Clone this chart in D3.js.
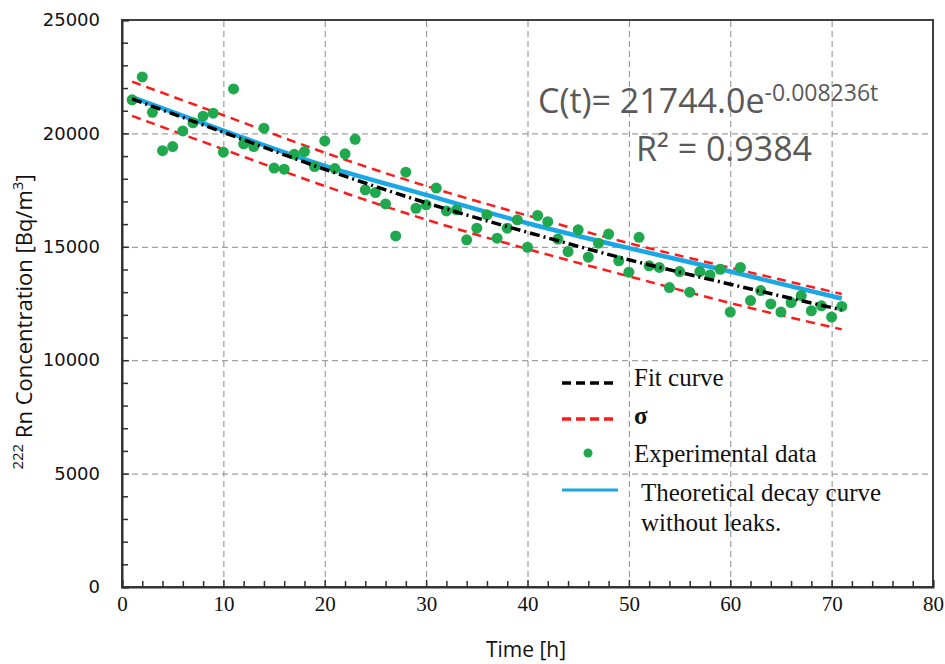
<!DOCTYPE html>
<html>
<head>
<meta charset="utf-8">
<script src="https://cdn.jsdelivr.net/npm/d3@7"></script>
<style>
  body { margin: 0; background: #fff; }
  svg { display: block; }
</style>
</head>
<body>
<svg></svg>
<script>
// experimental points
const hours = [1, 2, 3, 4, 5, 6, 7, 8, 9, 10, 11, 12, 13, 14, 15, 16, 17, 18, 19, 20,
  21, 22, 23, 24, 25, 26, 27, 28, 29, 30, 31, 32, 33, 34, 35, 36, 37, 38, 39, 40,
  41, 42, 43, 44, 45, 46, 47, 48, 49, 50, 51, 52, 53, 54, 55, 56, 57, 58, 59, 60,
  61, 62, 63, 64, 65, 66, 67, 68, 69, 70, 71];
const concentration = [21480, 22490, 20930, 19240, 19420, 20110, 20470, 20760, 20890, 19170,
  21960, 19540, 19420, 20230, 18470, 18420, 19080, 19200, 18540, 19670,
  18450, 19100, 19740, 17510, 17390, 16890, 15480, 18290, 16700, 16850,
  17590, 16580, 16630, 15310, 15820, 16410, 15380, 15820, 16190, 14980,
  16380, 16110, 15340, 14790, 15750, 14540, 15160, 15560, 14380, 13880,
  15420, 14160, 14090, 13200, 13910, 13000, 13910, 13760, 14010, 12120,
  14090, 12630, 13070, 12480, 12120, 12540, 12850, 12180, 12400, 11900, 12370];

// curves
const curveHours = [1, 10, 20, 30, 40, 50, 60, 71];
const fitCurve = [21520, 20050, 18420, 16940, 15640, 14430, 13350, 12220];
const sigmaUpper = [22280, 20800, 19150, 17680, 16380, 15160, 14080, 12920];
const sigmaLower = [20770, 19300, 17680, 16200, 14900, 13700, 12520, 11360];
const theoretical = [21600, 20120, 18570, 17290, 16040, 14940, 13910, 12720];

const xTicks = [0, 10, 20, 30, 40, 50, 60, 70, 80];
const yTicks = [0, 5000, 10000, 15000, 20000, 25000];
const xMinor = [2, 4, 6, 8, 12, 14, 16, 18, 22, 24, 26, 28, 32, 34, 36, 38, 42, 44, 46, 48,
  52, 54, 56, 58, 62, 64, 66, 68, 72, 74, 76, 78];
const yMinor = [1000, 2000, 3000, 4000, 6000, 7000, 8000, 9000, 11000, 12000, 13000, 14000,
  16000, 17000, 18000, 19000, 21000, 22000, 23000, 24000];

const width = 945;
const height = 664;
const margin = { top: 20, right: 12, bottom: 77, left: 122 };
const plotW = width - margin.left - margin.right;
const plotH = height - margin.top - margin.bottom;

const svg = d3.select("svg").attr("width", width).attr("height", height);
const g = svg.append("g").attr("transform", "translate(" + margin.left + "," + margin.top + ")");

const xScale = d3.scaleLinear().domain([0, 80]).range([0, plotW]);
const yScale = d3.scaleLinear().domain([0, 25000]).range([plotH, 0]);

// gridlines
const gridX = g.append("g")
  .attr("transform", "translate(0," + plotH + ")")
  .call(d3.axisBottom(xScale).tickValues(xTicks.slice(1, -1)).tickSize(-plotH).tickFormat(""));
const gridY = g.append("g")
  .call(d3.axisLeft(yScale).tickValues(yTicks.slice(1, -1)).tickSize(-plotW).tickFormat(""));
[gridX, gridY].forEach((gr) => {
  gr.select(".domain").remove();
  gr.selectAll("line").attr("stroke", "#8a8a8a").attr("stroke-width", 1).attr("stroke-dasharray", "6,4");
});

// frame
g.append("rect")
  .attr("width", plotW).attr("height", plotH)
  .attr("fill", "none").attr("stroke", "#404040").attr("stroke-width", 2);

// minor ticks
const minorX = g.append("g")
  .attr("transform", "translate(0," + plotH + ")")
  .call(d3.axisBottom(xScale).tickValues(xMinor).tickSize(-6).tickFormat(""));
const minorY = g.append("g")
  .call(d3.axisLeft(yScale).tickValues(yMinor).tickSize(-6).tickFormat(""));
[minorX, minorY].forEach((gr) => {
  gr.select(".domain").remove();
  gr.selectAll("line").attr("stroke", "#303030").attr("stroke-width", 1.5);
});

// main axes
const xAxis = g.append("g")
  .attr("transform", "translate(0," + plotH + ")")
  .call(d3.axisBottom(xScale).tickValues(xTicks).tickSize(-7).tickPadding(9).tickFormat(d3.format("d")));
xAxis.selectAll("text")
  .attr("font-family", "Liberation Serif, serif").attr("font-size", 21).attr("fill", "#111");

const yAxis = g.append("g")
  .call(d3.axisLeft(yScale).tickValues(yTicks).tickSize(-7).tickPadding(22).tickFormat(d3.format("d")));
yAxis.selectAll("text")
  .attr("font-family", "DejaVu Sans, sans-serif").attr("font-size", 18).attr("fill", "#111");

[xAxis, yAxis].forEach((gr) => {
  gr.select(".domain").attr("stroke", "#303030").attr("stroke-width", 2);
  gr.selectAll("line").attr("stroke", "#303030").attr("stroke-width", 1.5);
});

// lines
const line = (vals) => d3.line()
  .x((d, i) => xScale(curveHours[i]))
  .y((d) => yScale(d))
  .curve(d3.curveMonotoneX)(vals);

[sigmaUpper, sigmaLower].forEach((s) => {
  g.append("path").attr("d", line(s))
    .attr("fill", "none").attr("stroke", "#ff1a1a").attr("stroke-width", 2.5)
    .attr("stroke-dasharray", "9,6");
});

g.append("path").attr("d", line(theoretical))
  .attr("fill", "none").attr("stroke", "#1aa7e6").attr("stroke-width", 4.5);

g.selectAll("circle.pt")
  .data(hours)
  .enter()
  .append("circle")
  .attr("class", "pt")
  .attr("cx", (d) => xScale(d))
  .attr("cy", (d, i) => yScale(concentration[i]))
  .attr("r", 5.5)
  .attr("fill", "#1fa84d");

g.append("path").attr("d", line(fitCurve))
  .attr("fill", "none").attr("stroke", "#000").attr("stroke-width", 3.5)
  .attr("stroke-dasharray", "10,4,2,4");

// equation
const eq = svg.append("text")
  .attr("x", 538).attr("y", 113)
  .attr("font-family", "Open Sans, sans-serif").attr("font-size", 34).attr("fill", "#595959");
eq.append("tspan").text("C(t)= 21744.0e");
eq.append("tspan").attr("font-size", 23).attr("dy", -12).text("-0.008236t");

const r2 = svg.append("text")
  .attr("x", 636).attr("y", 161)
  .attr("font-family", "Open Sans, sans-serif").attr("font-size", 34).attr("fill", "#595959");
r2.append("tspan").text("R² = 0.9384");

// legend
const legend = svg.append("g").attr("font-family", "Liberation Serif, serif").attr("font-size", 25).attr("fill", "#111");
legend.append("line").attr("x1", 562).attr("x2", 618).attr("y1", 383).attr("y2", 383)
  .attr("stroke", "#000").attr("stroke-width", 3.5).attr("stroke-dasharray", "9,5");
legend.append("text").attr("x", 634).attr("y", 386).text("Fit curve");
legend.append("line").attr("x1", 562).attr("x2", 618).attr("y1", 419).attr("y2", 419)
  .attr("stroke", "#ff1a1a").attr("stroke-width", 3.5).attr("stroke-dasharray", "9,5");
legend.append("text").attr("x", 634).attr("y", 424).attr("font-weight", "bold").text("σ");
legend.append("circle").attr("cx", 588).attr("cy", 453).attr("r", 4.5).attr("fill", "#1fa84d");
legend.append("text").attr("x", 634).attr("y", 462).text("Experimental data");
legend.append("line").attr("x1", 562).attr("x2", 618).attr("y1", 490).attr("y2", 490)
  .attr("stroke", "#1aa7e6").attr("stroke-width", 3);
legend.append("text").attr("x", 641).attr("y", 501).text("Theoretical decay curve");
legend.append("text").attr("x", 641).attr("y", 531).text("without leaks.");

// axis titles
svg.append("text")
  .attr("x", 526).attr("y", 657)
  .attr("text-anchor", "middle")
  .attr("font-family", "Open Sans, sans-serif").attr("font-size", 21).attr("fill", "#111")
  .text("Time [h]");

const yTitle = svg.append("text")
  .attr("transform", "translate(32,322) rotate(-90)")
  .attr("text-anchor", "middle")
  .attr("font-family", "Open Sans, sans-serif").attr("font-size", 22).attr("fill", "#111");
yTitle.append("tspan").attr("font-size", 15).attr("dy", -9).text("222");
yTitle.append("tspan").attr("dy", 9).text(" Rn Concentration [Bq/m");
yTitle.append("tspan").attr("font-size", 15).attr("dy", -9).text("3");
yTitle.append("tspan").attr("dy", 9).text("]");
</script>
</body>
</html>
